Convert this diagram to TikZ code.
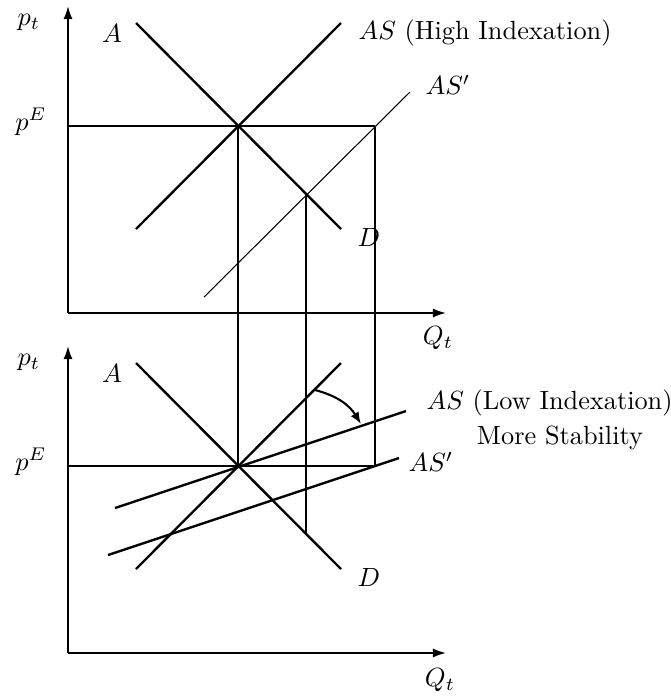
\documentclass[tikz,border=0pt]{standalone}
\usetikzlibrary{arrows.meta}
\begin{document}
\begin{tikzpicture}[x=0.38pt,y=-0.38pt,
  curve/.style={line width=0.9pt},
  thin curve/.style={line width=0.4pt},
  guide/.style={line width=0.7pt},
  axis/.style={line width=0.7pt,-{Latex[length=5pt,width=3.5pt]}},
  lbl/.style={inner sep=0pt}]
\useasboundingbox (0,0) rectangle (671,696);

% ---------- top panel ----------
\coordinate (O1) at (68,313);
\coordinate (Y1) at (68,6);
\coordinate (X1) at (446,313);
\coordinate (A1) at (136,23);
\coordinate (D1) at (341,229);
\coordinate (S1a) at (136,229);
\coordinate (S1b) at (341,23);
\coordinate (E1) at (238,126);
\coordinate (P1) at (68,126);
\coordinate (R1) at (375,126);
\coordinate (T1a) at (204,297);
\coordinate (T1b) at (410,92);
\coordinate (M1) at (306,194);

% ---------- bottom panel ----------
\coordinate (O2) at (68,653);
\coordinate (Y2) at (68,346);
\coordinate (X2) at (446,653);
\coordinate (A2) at (136,363);
\coordinate (D2) at (341,569);
\coordinate (S2a) at (136,569);
\coordinate (S2b) at (341,363);
\coordinate (E2) at (238,466);
\coordinate (P2) at (68,466);
\coordinate (R2) at (375,466);
\coordinate (L2a) at (115,508);
\coordinate (L2b) at (406,411);
\coordinate (T2a) at (108,555);
\coordinate (T2b) at (399,458);
\coordinate (M2) at (306,534);
\coordinate (Q1) at (315,390);
\coordinate (Q2) at (361,424);

% axes
\draw[axis] (O1) -- (Y1);
\draw[axis] (O1) -- (X1);
\draw[axis] (O2) -- (Y2);
\draw[axis] (O2) -- (X2);

% top curves
\draw[curve] (A1) -- (D1);
\draw[curve] (S1a) -- (S1b);
\draw[thin curve] (T1a) -- (T1b);
\draw[guide] (P1) -- (R1);

% bottom curves
\draw[curve] (A2) -- (D2);
\draw[curve] (S2a) -- (S2b);
\draw[curve] (L2a) -- (L2b);
\draw[curve] (T2a) -- (T2b);
\draw[guide] (P2) -- (R2);

% verticals
\draw[guide] (E1) -- (E2);
\draw[guide] (M1) -- (M2);
\draw[guide] (R1) -- (R2);

% rotation arrow
\draw[line width=0.8pt,-{Latex[length=4.5pt,width=3.5pt]}] (Q1) to[bend left=22] (Q2);

% labels top
\node[lbl] (pt1) at (29,22) {$p_t$};
\node[lbl] (pE1) at (31,122) {$p^E$};
\node[lbl] (la1) at (112,33) {$A$};
\node[lbl] (ld1) at (369,237) {$D$};
\node[lbl,anchor=west] (las1) at (358,33) {$AS$ (High Indexation)};
\node[lbl,anchor=west] (lasp1) at (425,85) {$AS'$};
\node[lbl] (q1) at (438,338) {$Q_t$};

% labels bottom
\node[lbl] (pt2) at (29,362) {$p_t$};
\node[lbl] (pE2) at (31,462) {$p^E$};
\node[lbl] (la2) at (112,373) {$A$};
\node[lbl] (ld2) at (369,577) {$D$};
\node[lbl,anchor=west] (las2) at (426,403) {$AS$ (Low Indexation)};
\node[lbl] (ms) at (560,438) {More Stability};
\node[lbl,anchor=west] (lasp2) at (408,462) {$AS'$};
\node[lbl] (q2) at (440,680) {$Q_t$};
\end{tikzpicture}
\end{document}
